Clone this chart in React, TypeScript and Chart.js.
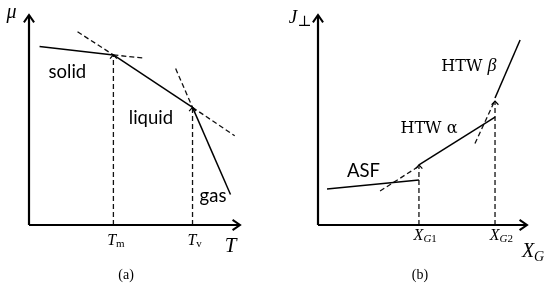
import React, { useEffect, useRef } from "react";
import { Chart, registerables } from "chart.js";
Chart.register(...registerables);

// ---------- Panel (a): chemical potential vs temperature ----------
const T_M = 4.0;
const T_V = 7.75;
const solidLine = [{ x: 0.5, y: 8.5 }, { x: T_M, y: 8.1 }];
const liquidLine = [{ x: T_M, y: 8.1 }, { x: T_V, y: 5.6 }];
const gasLine = [{ x: T_V, y: 5.6 }, { x: 9.55, y: 1.45 }];
const solidExt = [{ x: T_M, y: 8.1 }, { x: 5.4, y: 7.95 }];
const liquidExtLeft = [{ x: 2.3, y: 9.2 }, { x: T_M, y: 8.1 }];
const liquidExtRight = [{ x: T_V, y: 5.6 }, { x: 9.75, y: 4.25 }];
const gasExtUp = [{ x: 6.95, y: 7.45 }, { x: T_V, y: 5.6 }];
const dropTm = [{ x: T_M, y: 0 }, { x: T_M, y: 8.1 }];
const dropTv = [{ x: T_V, y: 0 }, { x: T_V, y: 5.6 }];

// ---------- Panel (b): J_perp vs X_G ----------
const XG1 = 4.83;
const XG2 = 8.47;
const asfLine = [{ x: 0.43, y: 1.71 }, { x: XG1, y: 2.14 }];
const htwALine = [{ x: XG1, y: 2.86 }, { x: XG2, y: 5.14 }];
const htwBLine = [{ x: XG2, y: 6.05 }, { x: 9.67, y: 8.81 }];
const alphaExt = [{ x: 2.97, y: 1.62 }, { x: XG1, y: 2.8 }];
const betaExt = [{ x: 7.51, y: 3.88 }, { x: XG2, y: 5.95 }];
const dropG1 = [{ x: XG1, y: 0 }, { x: XG1, y: 2.86 }];
const dropG2 = [{ x: XG2, y: 0 }, { x: XG2, y: 5.9 }];

const xAxisLine = [{ x: 0, y: 0 }, { x: 10, y: 0 }];
const yAxisLine = [{ x: 0, y: 0 }, { x: 0, y: 10 }];

const SERIF = "'Liberation Serif', 'Times New Roman', serif";
const DSERIF = "'DejaVu Serif', serif";
const SANS = "Lato, 'Open Sans', sans-serif";

type Part = { t: string; font: string; dy?: number };
type TextItem = { x: number; y: number; parts: Part[] };

const labelsA: TextItem[] = [
  { x: 1.82, y: 7.0, parts: [{ t: "solid", font: `18.5px ${SANS}` }] },
  { x: 5.78, y: 4.81, parts: [{ t: "liquid", font: `18.5px ${SANS}` }] },
  { x: 8.72, y: 1.1, parts: [{ t: "gas", font: `18.5px ${SANS}` }] },
  { x: -0.83, y: 9.85, parts: [{ t: "μ", font: `italic 20px ${SERIF}` }] },
  { x: 9.55, y: -1.29, parts: [{ t: "T", font: `italic 21px ${SERIF}` }] },
  { x: T_M + 0.12, y: -0.95, parts: [{ t: "T", font: `italic 16px ${SERIF}` }, { t: "m", font: `11px ${SERIF}`, dy: 2 }] },
  { x: T_V + 0.1, y: -0.95, parts: [{ t: "T", font: `italic 16px ${SERIF}` }, { t: "v", font: `11px ${SERIF}`, dy: 2 }] },
  { x: 4.6, y: -2.57, parts: [{ t: "(a)", font: `14px ${SERIF}` }] },
];

const labelsB: TextItem[] = [
  { x: 2.18, y: 2.29, parts: [{ t: "ASF", font: `18.5px ${SANS}` }] },
  { x: 5.31, y: 4.38, parts: [{ t: "HTW α", font: `16px ${DSERIF}` }] },
  { x: 7.22, y: 7.33, parts: [{ t: "HTW ", font: `16px ${DSERIF}` }, { t: "β", font: `italic 18px ${SERIF}` }] },
  { x: -0.86, y: 9.62, parts: [{ t: "J", font: `italic 19px ${SERIF}` }, { t: "⊥", font: `15px ${DSERIF}`, dy: 3 }] },
  { x: 10.29, y: -1.52, parts: [{ t: "X", font: `italic 20px ${SERIF}` }, { t: "G", font: `italic 14px ${SERIF}`, dy: 4 }] },
  { x: XG1 + 0.3, y: -0.71, parts: [{ t: "X", font: `italic 16px ${SERIF}` }, { t: "G", font: `italic 11px ${SERIF}`, dy: 2 }, { t: "1", font: `11px ${SERIF}`, dy: 2 }] },
  { x: XG2 + 0.3, y: -0.71, parts: [{ t: "X", font: `italic 16px ${SERIF}` }, { t: "G", font: `italic 11px ${SERIF}`, dy: 2 }, { t: "2", font: `11px ${SERIF}`, dy: 2 }] },
  { x: 4.88, y: -2.57, parts: [{ t: "(b)", font: `14px ${SERIF}` }] },
];

function makeDecor(texts: TextItem[]) {
  return {
    id: "decor",
    afterDatasetsDraw(chart: any) {
      const ctx = chart.ctx;
      const xs = chart.scales.x;
      const ys = chart.scales.y;
      chart.data.datasets.forEach((ds: any) => {
        if (!ds.arrowHead) return;
        const d = ds.data;
        const a = d[d.length - 2];
        const b = d[d.length - 1];
        const x1 = xs.getPixelForValue(a.x), y1 = ys.getPixelForValue(a.y);
        const x2 = xs.getPixelForValue(b.x), y2 = ys.getPixelForValue(b.y);
        const ang = Math.atan2(y2 - y1, x2 - x1);
        const L = ds.arrowHead.len;
        const h = ds.arrowHead.half;
        ctx.save();
        ctx.setLineDash([]);
        ctx.lineWidth = ds.arrowHead.width;
        ctx.strokeStyle = "#000";
        ctx.lineJoin = "miter";
        ctx.beginPath();
        ctx.moveTo(x2 - L * Math.cos(ang - h), y2 - L * Math.sin(ang - h));
        ctx.lineTo(x2, y2);
        ctx.lineTo(x2 - L * Math.cos(ang + h), y2 - L * Math.sin(ang + h));
        ctx.stroke();
        ctx.restore();
      });
      ctx.save();
      ctx.fillStyle = "#000";
      ctx.textBaseline = "alphabetic";
      ctx.textAlign = "left";
      for (const item of texts) {
        let total = 0;
        const widths = item.parts.map((p) => {
          ctx.font = p.font;
          const w = ctx.measureText(p.t).width;
          total += w;
          return w;
        });
        let px = xs.getPixelForValue(item.x) - total / 2;
        const py = ys.getPixelForValue(item.y);
        item.parts.forEach((p, i) => {
          ctx.font = p.font;
          ctx.fillText(p.t, px, py + (p.dy || 0));
          px += widths[i];
        });
      }
      ctx.restore();
    },
  };
}

const solid = (data: any[], width = 1.5) => ({
  data, borderColor: "#000", borderWidth: width, showLine: true, pointRadius: 0, clip: false, fill: false,
});
const dashed = (data: any[]) => ({
  data, borderColor: "#111", borderWidth: 1.3, borderDash: [5, 3], showLine: true, pointRadius: 0, clip: false, fill: false,
});
const axis = (data: any[]) => ({
  ...solid(data, 2.2), arrowHead: { len: 9, half: 0.6, width: 2 },
});
const drop = (data: any[]) => ({
  ...dashed(data), arrowHead: { len: 5, half: 0.75, width: 1.2 },
});

function Panel({ datasets, texts, padding }: { datasets: any[]; texts: TextItem[]; padding: any }) {
  const ref = useRef<HTMLCanvasElement>(null);
  useEffect(() => {
    if (!ref.current) return;
    const chart = new Chart(ref.current, {
      type: "scatter",
      data: { datasets },
      options: {
        animation: false,
        responsive: false,
        devicePixelRatio: 1,
        layout: { padding },
        scales: {
          x: { type: "linear", min: 0, max: 10, display: false },
          y: { type: "linear", min: 0, max: 10, display: false },
        },
        plugins: { legend: { display: false }, tooltip: { enabled: false } },
      } as any,
      plugins: [makeDecor(texts)],
    });
    return () => chart.destroy();
  }, []);
  return <canvas ref={ref} width={275} height={287} style={{ display: "block" }} />;
}

export default function App() {
  const dsA = [
    axis(xAxisLine), axis(yAxisLine),
    solid(solidLine), solid(liquidLine), solid(gasLine),
    dashed(solidExt), dashed(liquidExtLeft), dashed(liquidExtRight), dashed(gasExtUp),
    drop(dropTm), drop(dropTv),
  ];
  const dsB = [
    axis(xAxisLine), axis(yAxisLine),
    solid(asfLine), solid(htwALine), solid(htwBLine),
    dashed(alphaExt), dashed(betaExt),
    drop(dropG1), drop(dropG2),
  ];
  return (
    <div style={{ position: "fixed", left: 0, top: 0, width: 550, height: 287, display: "flex", background: "#fff" }}>
      <Panel datasets={dsA} texts={labelsA} padding={{ left: 29, right: 35, top: 15, bottom: 62 }} />
      <Panel datasets={dsB} texts={labelsB} padding={{ left: 43, right: 23, top: 15, bottom: 62 }} />
    </div>
  );
}
